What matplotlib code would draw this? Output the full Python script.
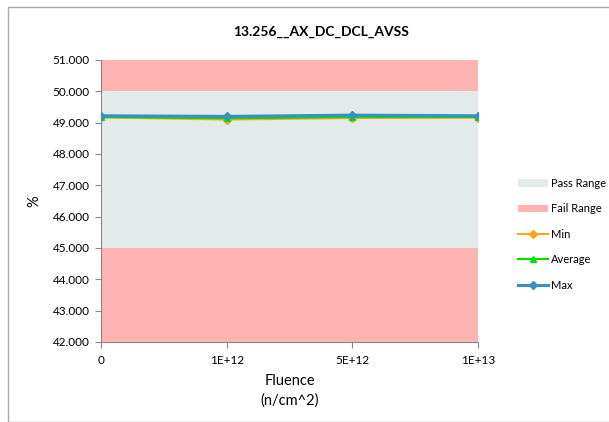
import numpy as np
import matplotlib.pyplot as plt
from matplotlib.patches import Patch, Rectangle
from matplotlib.lines import Line2D

plt.rcParams['font.family'] = ['Lato', 'DejaVu Sans']

# data
categories = ["0", "1E+12", "5E+12", "1E+13"]
min_vals = [49.17, 49.10, 49.15, 49.16]
avg_vals = [49.18, 49.14, 49.18, 49.18]
max_vals = [49.22, 49.20, 49.24, 49.22]
pass_low, pass_high = 45.0, 50.0
y_min, y_max = 42.0, 51.0
y_ticks = np.arange(42, 52, 1)

fig = plt.figure(figsize=(6.09, 4.22), dpi=100)
ax = fig.add_axes([101 / 609, 1 - 342 / 422, 377 / 609, 282 / 422])

x = np.arange(len(categories))

# range bands
ax.fill_between([x[0], x[-1]], y_min, pass_low, color='#ffb3b3', lw=0, zorder=1)
ax.fill_between([x[0], x[-1]], pass_low, pass_high, color='#e3eaea', lw=0, zorder=1)
ax.fill_between([x[0], x[-1]], pass_high, y_max, color='#ffb3b3', lw=0, zorder=1)

ax.plot(x, min_vals, color='#ffa31a', marker='D', ms=4, lw=1.5, zorder=3)
ax.plot(x, avg_vals, color='#00e000', marker='^', ms=5, lw=1.5, zorder=4)
ax.plot(x, max_vals, color='#3a8fc4', marker='D', ms=4, lw=2.2, zorder=5)

ax.set_xlim(x[0], x[-1])
ax.set_ylim(y_min, y_max)
ax.set_yticks(y_ticks)
ax.set_yticklabels([f"{v:.3f}" for v in y_ticks], fontsize=8.5)
ax.set_xticks(x)
ax.set_xticklabels(categories, fontsize=8.5)
ax.tick_params(axis='both', color='#888888', length=4, width=0.8)
ax.tick_params(axis='x', pad=5)
ax.tick_params(axis='y', pad=4)

for side in ['top', 'right']:
    ax.spines[side].set_visible(False)
for side in ['left', 'bottom']:
    ax.spines[side].set_color('#888888')
    ax.spines[side].set_linewidth(0.8)

ax.set_xlabel("Fluence\n(n/cm^2)", fontsize=10.5, labelpad=6, linespacing=1.5)
ax.set_ylabel("%", fontsize=10.5, labelpad=8)
fig.text(0.527, 1 - 32 / 422, "13.256__AX_DC_DCL_AVSS", fontsize=10,
         fontweight='bold', ha='center', va='center')

handles = [
    Patch(facecolor='#e3eaea', edgecolor='none'),
    Patch(facecolor='#ffb3b3', edgecolor='none'),
    Line2D([], [], color='#ffa31a', marker='D', ms=4, lw=1.5),
    Line2D([], [], color='#00e000', marker='^', ms=5, lw=1.5),
    Line2D([], [], color='#3a8fc4', marker='D', ms=4, lw=2.2),
]
labels = ["Pass Range", "Fail Range", "Min", "Average", "Max"]
fig.legend(handles, labels, loc='upper left', bbox_to_anchor=(518 / 609, 1 - 178 / 422),
           frameon=False, fontsize=8, labelspacing=1.3, handlelength=2.7,
           handletextpad=0.25, borderpad=0, borderaxespad=0)

# chart border
fig.patches.append(Rectangle((8 / 609, 0), 1, 1 - 7 / 422, transform=fig.transFigure,
                             fill=False, edgecolor='#aaaaaa', lw=1))

fig.savefig('out.png', dpi=100)
